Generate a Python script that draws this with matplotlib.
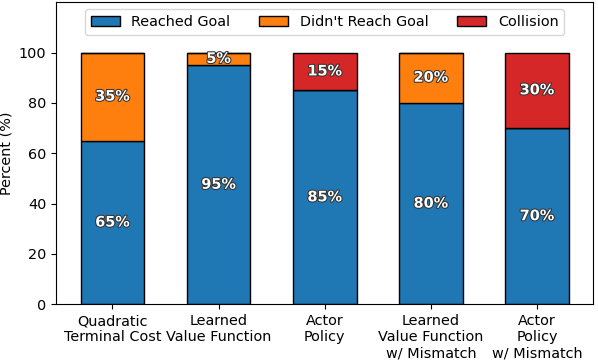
import matplotlib
matplotlib.use("Agg")
import matplotlib.pyplot as plt
import matplotlib.patheffects as pe
import numpy as np

plt.rcParams["font.size"] = 10.4

categories = ["Quadratic\nTerminal Cost", "Learned\nValue Function", "Actor\nPolicy",
              "Learned\nValue Function\nw/ Mismatch", "Actor\nPolicy\nw/ Mismatch"]
reached = [65, 95, 85, 80, 70]
not_reached = [35, 5, 0, 20, 0]
collision = [0, 0, 15, 0, 30]

colors = ["#1f77b4", "#ff7f0e", "#d62728"]
labels = ["Reached Goal", "Didn't Reach Goal", "Collision"]

fig, ax = plt.subplots(figsize=(5.98, 3.61), dpi=100)
fig.subplots_adjust(left=0.094, right=0.992, top=0.994, bottom=0.157)

x = np.arange(len(categories))
bottom = np.zeros(len(categories))
for vals, c, lab in zip([reached, not_reached, collision], colors, labels):
    vals = np.array(vals, dtype=float)
    ax.bar(x, vals, 0.6, bottom=bottom, color=c, edgecolor="black", label=lab)
    for xi, v, b in zip(x, vals, bottom):
        if v > 0:
            ax.text(xi, b + v / 2, f"{int(v)}%", ha="center", va="center",
                    color="white", fontweight="bold", fontsize=10.4,
                    path_effects=[pe.withStroke(linewidth=1.5, foreground="#333333")])
    bottom += vals

ax.set_xticks(x)
ax.set_xticklabels(categories)
ax.set_ylim(0, 120)
ax.set_yticks([0, 20, 40, 60, 80, 100])
ax.set_ylabel("Percent (%)")
ax.legend(loc="upper center", ncol=3)

fig.savefig("out.png", dpi=100)
